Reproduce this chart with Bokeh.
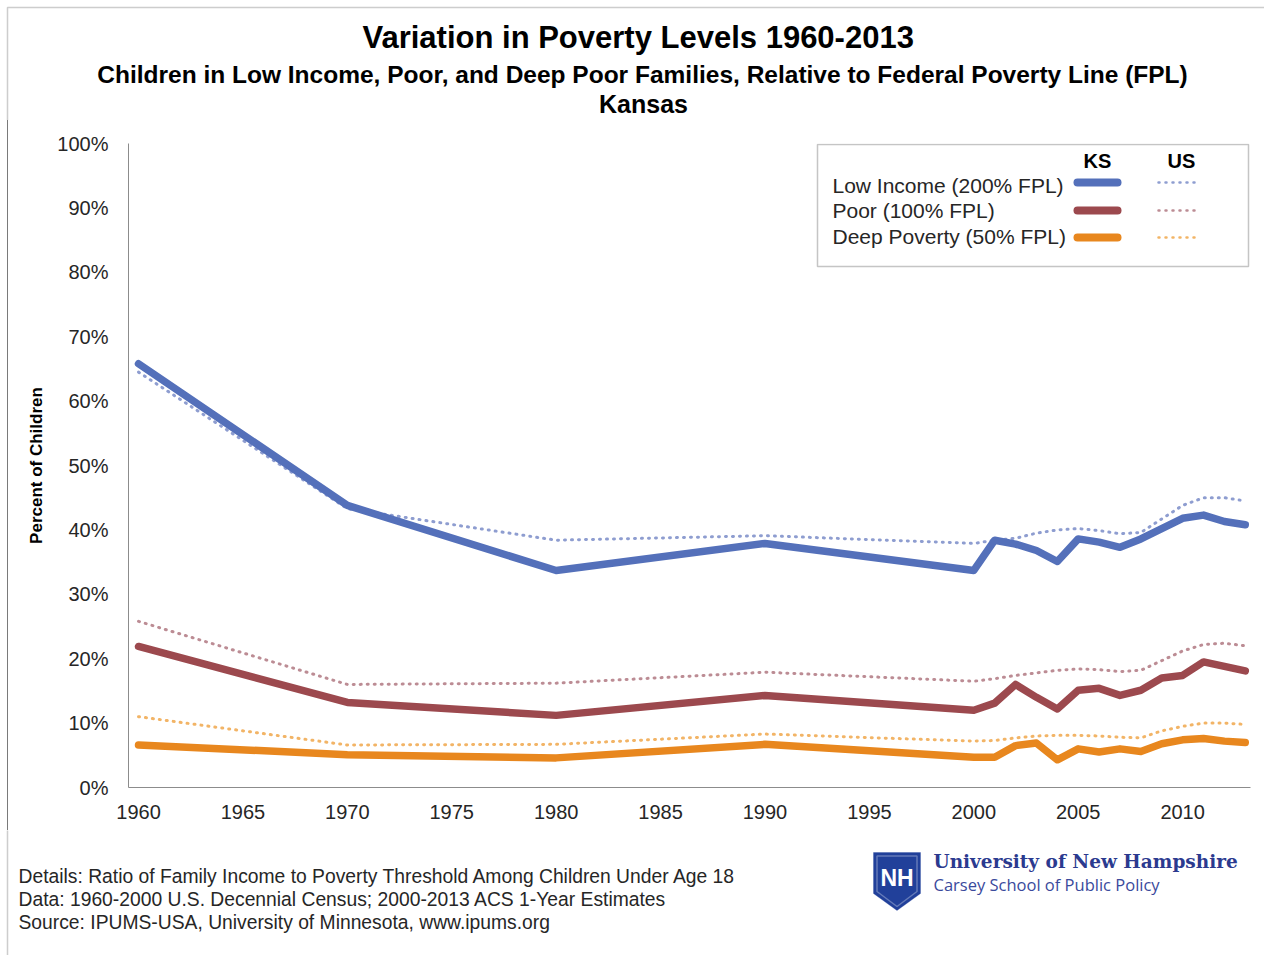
from bokeh.plotting import figure
from bokeh.layouts import column, row
from bokeh.models import (Label, BoxAnnotation, PolyAnnotation, Arrow, FixedTicker,
                          PrintfTickFormatter, Range1d, Div)
from bokeh.embed import file_html
from bokeh.resources import INLINE

# ---------------- data ----------------
years = [1960, 1970, 1980, 1990, 2000, 2001, 2002, 2003, 2004, 2005, 2006,
         2007, 2008, 2009, 2010, 2011, 2012, 2013]
ks_low = [65.8, 43.8, 33.7, 37.9, 33.7, 38.4, 37.8, 36.8, 35.1, 38.6, 38.1,
          37.3, 38.6, 40.2, 41.8, 42.3, 41.3, 40.8]
us_low = [64.5, 43.3, 38.4, 39.1, 37.9, 38.4, 38.7, 39.5, 40.0, 40.2, 39.9,
          39.4, 39.6, 41.7, 43.8, 45.0, 45.0, 44.5]
ks_poor = [21.9, 13.2, 11.2, 14.3, 12.0, 13.1, 16.0, 14.0, 12.2, 15.1, 15.4,
           14.3, 15.1, 17.0, 17.4, 19.5, 18.8, 18.1]
us_poor = [25.8, 16.0, 16.2, 17.9, 16.5, 16.9, 17.4, 17.8, 18.2, 18.4, 18.3,
           18.0, 18.2, 19.7, 21.2, 22.2, 22.4, 22.0]
ks_deep = [6.6, 5.1, 4.6, 6.7, 4.7, 4.7, 6.5, 6.9, 4.3, 6.0, 5.5,
           6.0, 5.6, 6.8, 7.4, 7.6, 7.2, 7.0]
us_deep = [11.0, 6.6, 6.7, 8.3, 7.2, 7.3, 7.7, 8.0, 8.1, 8.1, 8.0,
           7.8, 7.7, 8.8, 9.5, 10.0, 10.0, 9.8]

x_ticks = [1960, 1965, 1970, 1975, 1980, 1985, 1990, 1995, 2000, 2005, 2010]
y_ticks = [0, 10, 20, 30, 40, 50, 60, 70, 80, 90, 100]

series_names = ["Low Income  (200% FPL)", "Poor (100% FPL)", "Deep Poverty  (50% FPL)"]
ks_colors = ["#5470BA", "#9C494E", "#E8871E"]
us_colors = ["#8E9DD0", "#BC8C94", "#F2B466"]

title_text = "Variation in Poverty  Levels 1960-2013"
subtitle_text = "Children in Low Income, Poor, and Deep Poor Families, Relative to Federal Poverty Line (FPL)"
state_text = "Kansas"
footer_lines = [
    "Details: Ratio of Family Income to Poverty Threshold Among Children Under Age 18",
    "Data: 1960-2000 U.S. Decennial Census; 2000-2013 ACS 1-Year Estimates",
    "Source: IPUMS-USA,  University  of Minnesota, www.ipums.org",
]

FONT = "Liberation Sans"
W = 1264
HEAD_H, MAIN_H, FOOT_H = 120, 710, 125
STRIP_W = 9
U = "canvas"
BORDER = "#595959"


def blank(width, height):
    f = figure(width=width, height=height, output_backend="svg", toolbar_location=None,
               x_axis_type=None, y_axis_type=None, x_range=Range1d(0, width),
               y_range=Range1d(height, 0), min_border=0)
    f.title.visible = False
    f.outline_line_color = None
    f.xgrid.grid_line_color = None
    f.ygrid.grid_line_color = None
    f.background_fill_color = "white"
    f.border_fill_color = "white"
    return f


def lab(fig, x, y, text, size, bold=False, align="left", color="#262626", font=FONT,
        level="annotation"):
    fig.add_layout(Label(x=x, y=y, x_units=U, y_units=U, text=text, text_font=font,
                         text_font_size=size, text_font_style="bold" if bold else "normal",
                         text_align=align, text_baseline="middle", text_color=color,
                         level=level))


# ---------------- header ----------------
head = blank(W, HEAD_H)
head.add_layout(BoxAnnotation(left=7, right=W + 30, top=7, bottom=HEAD_H + 30,
                              left_units=U, right_units=U, top_units=U, bottom_units=U,
                              fill_alpha=0, line_color=BORDER, line_width=1.5))
lab(head, 642, 37, title_text, "31px", bold=True, align="center", color="#000000")
lab(head, 642, 74, subtitle_text, "24.5px", bold=True, align="center", color="#000000")
lab(head, 643, 103, state_text, "25px", bold=True, align="center", color="#000000")

# ---------------- left border strip (plain HTML) ----------------
strip = Div(width=STRIP_W, height=MAIN_H, styles={"margin": "0", "padding": "0"},
            text=('<div style="margin:0 0 0 6.5px;padding:0;width:1.5px;height:%dpx;'
                  'background:#7a7a7a"></div>' % MAIN_H))

# ---------------- main chart ----------------
MW = W - STRIP_W
p = figure(width=MW, height=MAIN_H, output_backend="svg", toolbar_location=None,
           x_range=Range1d(1959.52, 2013.25), y_range=Range1d(0, 100),
           min_border_left=128 - STRIP_W, min_border_right=W - 1250,
           min_border_top=143 - HEAD_H, min_border_bottom=HEAD_H + MAIN_H - 787)
p.title.visible = False
p.outline_line_color = None
p.xgrid.grid_line_color = None
p.ygrid.grid_line_color = None
p.background_fill_color = "white"
p.border_fill_color = "white"

for ax in (p.xaxis[0], p.yaxis[0]):
    ax.axis_line_color = "#8C8C8C"
    ax.axis_line_width = 1
    ax.major_tick_line_color = None
    ax.minor_tick_line_color = None
    ax.major_tick_out = 0
    ax.major_tick_in = 0
    ax.minor_tick_out = 0
    ax.minor_tick_in = 0
    ax.major_label_text_font = FONT
    ax.major_label_text_font_size = "20px"
    ax.major_label_text_color = "#262626"

p.xaxis.ticker = FixedTicker(ticks=x_ticks)
p.xaxis.major_label_standoff = 17
p.yaxis.ticker = FixedTicker(ticks=y_ticks)
p.yaxis.formatter = PrintfTickFormatter(format="%d%%")
p.yaxis.major_label_standoff = 20
p.yaxis.axis_label = "Percent of Children"
p.yaxis.axis_label_text_font = FONT
p.yaxis.axis_label_text_font_style = "bold"
p.yaxis.axis_label_text_font_size = "17px"
p.yaxis.axis_label_text_color = "#000000"
p.yaxis.axis_label_standoff = 8

us_series = [us_low, us_poor, us_deep]
ks_series = [ks_low, ks_poor, ks_deep]
for vals, col in zip(us_series, us_colors):
    p.line(years, vals, line_color=col, line_width=3, line_dash="1 6",
           line_cap="round", line_join="round")
for vals, col in zip(ks_series, ks_colors):
    p.line(years, vals, line_color=col, line_width=7.5, line_cap="round",
           line_join="round")

# legend (canvas coords of the main figure)
ox, oy = STRIP_W, HEAD_H
p.add_layout(BoxAnnotation(left=817 - ox, right=1248 - ox, top=144 - oy, bottom=266 - oy,
                           left_units=U, right_units=U, top_units=U, bottom_units=U,
                           fill_color="white", fill_alpha=1, line_color="#404040",
                           line_width=1.5, level="overlay"))
lab(p, 1097 - ox, 160 - oy, "KS", "20px", bold=True, align="center", color="#000000",
    level="overlay")
lab(p, 1181 - ox, 160 - oy, "US", "20px", bold=True, align="center", color="#000000",
    level="overlay")
text_y = [185, 210, 236]
line_y = [182, 210, 237]
for name, ty, ly, kc, uc in zip(series_names, text_y, line_y, ks_colors, us_colors):
    lab(p, 832 - ox, ty - oy, name, "21px", align="left", color="#262626", level="overlay")
    p.add_layout(Arrow(x_start=1077 - ox, y_start=ly - oy, x_end=1117 - ox, y_end=ly - oy,
                       start_units=U, end_units=U, start=None, end=None,
                       line_color=kc, line_width=8, line_cap="round", level="overlay"))
    p.add_layout(Arrow(x_start=1158 - ox, y_start=ly - oy, x_end=1200 - ox, y_end=ly - oy,
                       start_units=U, end_units=U, start=None, end=None,
                       line_color=uc, line_width=2.5, line_dash="1 6",
                       line_cap="round", level="overlay"))

# ---------------- footer ----------------
foot = blank(W, FOOT_H)
fy = HEAD_H + MAIN_H
foot.add_layout(BoxAnnotation(left=7, right=W + 30, top=-30, bottom=FOOT_H + 30,
                              left_units=U, right_units=U, top_units=U, bottom_units=U,
                              fill_alpha=0, line_color=BORDER, line_width=1.5))
for i, t in enumerate(footer_lines):
    lab(foot, 18, 876 - fy + 23 * i, t, "19.3px", align="left", color="#262626")

foot.add_layout(PolyAnnotation(xs=[873, 920, 920, 896.5, 873],
                               ys=[852 - fy, 852 - fy, 893 - fy, 910 - fy, 893 - fy],
                               xs_units=U, ys_units=U, fill_color="#21409A", fill_alpha=1,
                               line_color="#21409A", line_width=1))
foot.add_layout(PolyAnnotation(xs=[876.5, 916.5, 916.5, 896.5, 876.5],
                               ys=[855.5 - fy, 855.5 - fy, 891 - fy, 906 - fy, 891 - fy],
                               xs_units=U, ys_units=U, fill_alpha=0,
                               line_color="white", line_width=1.5))
lab(foot, 896.5, 877 - fy, "NH", "23px", bold=True, align="center", color="white",
    font=FONT)
lab(foot, 933, 861 - fy, "University of New Hampshire", "18.5px", bold=True,
    color="#2B3A8F", font="DejaVu Serif")
lab(foot, 933, 884 - fy, "Carsey School of Public Policy", "16.5px",
    color="#3A4A9C", font="Open Sans")

layout = column(head, row(strip, p), foot)
open("out.html", "w").write(file_html(layout, INLINE))
